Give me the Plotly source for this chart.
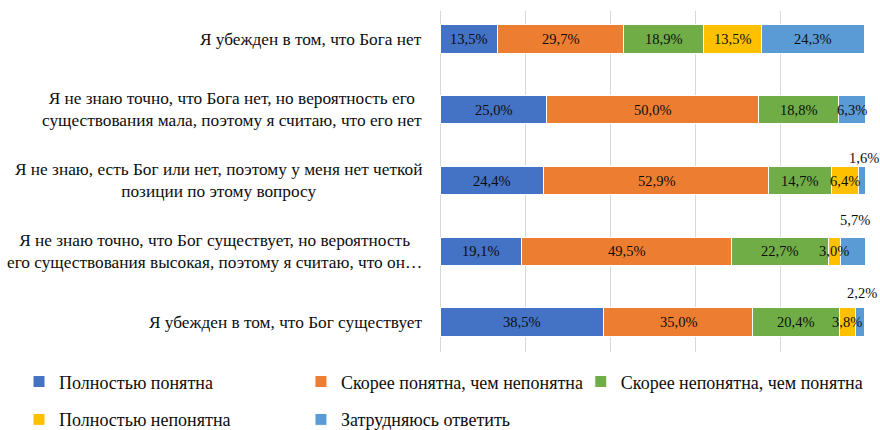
import plotly.graph_objects as go

categories = [
    "Я убежден в том, что Бога нет",
    "Я не знаю точно, что Бога нет, но вероятность его<br>существования мала, поэтому я считаю, что его нет",
    "Я не знаю, есть Бог или нет, поэтому у меня нет четкой<br>позиции по этому вопросу",
    "Я не знаю точно, что Бог существует, но вероятность<br>его существования высокая, поэтому я считаю, что он…",
    "Я убежден в том, что Бог существует",
]
series_names = [
    "Полностью понятна",
    "Скорее понятна, чем непонятна",
    "Скорее непонятна, чем понятна",
    "Полностью непонятна",
    "Затрудняюсь ответить",
]
full_clear = [13.5, 25.0, 24.4, 19.1, 38.5]
rather_clear = [29.7, 50.0, 52.9, 49.5, 35.0]
rather_unclear = [18.9, 18.8, 14.7, 22.7, 20.4]
full_unclear = [13.5, 0.0, 6.4, 3.0, 3.8]
hard_to_say = [24.3, 6.3, 1.6, 5.7, 2.2]
series_values = [full_clear, rather_clear, rather_unclear, full_unclear, hard_to_say]
colors = ["#4472C4", "#ED7D31", "#70AD47", "#FFC000", "#5B9BD5"]

# labels moved above the bar in the original: (row, series) -> vertical shift px
lifted_labels = {(2, 4): 23, (3, 4): 31, (4, 4): 29}

SERIF = "Liberation Serif, Times New Roman, serif"
LABEL_FONT = dict(family=SERIF, size=14.5, color="#0d0d0d")

rows = list(range(len(categories)))
fig = go.Figure()
legend_pos = [(0.0216, 0.112), (0.342, 0.112), (0.660, 0.112), (0.0216, 0.024), (0.342, 0.024)]

for s, (name, vals, col) in enumerate(zip(series_names, series_values, colors)):
    lg = "legend" if s == 0 else f"legend{s+1}"
    fig.add_trace(go.Bar(
        y=rows, x=vals, name=name, orientation="h",
        marker=dict(color=col, line=dict(color="white", width=1)),
        width=0.4, legend=lg, hoverinfo="x+name",
    ))


def fmt(v):
    return f"{v:.1f}".replace(".", ",") + "%"


annotations = []
for r in rows:
    start = 0.0
    for s in range(len(series_values)):
        v = series_values[s][r]
        if v > 0:
            shift = lifted_labels.get((r, s), 0)
            annotations.append(dict(
                x=start + v / 2, y=r, xref="x", yref="y", text=fmt(v),
                showarrow=False, yshift=shift, xshift=2 if shift else 0,
                font=LABEL_FONT,
            ))
        start += v

for r, cat in enumerate(categories):
    annotations.append(dict(
        x=-0.037, y=r, xref="paper", yref="y", text=cat, showarrow=False,
        xanchor="right", yanchor="middle", align="center",
        font=dict(family=SERIF, size=17.3, color="#0d0d0d"),
    ))

layout_legends = {}
for s in range(len(series_names)):
    key = "legend" if s == 0 else f"legend{s+1}"
    x, y = legend_pos[s]
    layout_legends[key] = dict(
        orientation="h", xref="container", yref="container", x=x, y=y,
        xanchor="left", yanchor="middle", bgcolor="rgba(0,0,0,0)",
        font=dict(family=SERIF, size=18, color="#0d0d0d"), itemwidth=30,
    )

fig.update_layout(
    width=880, height=430,
    margin=dict(l=440, r=15, t=11, b=78, autoexpand=False),
    barmode="stack",
    plot_bgcolor="white", paper_bgcolor="white",
    showlegend=True,
    xaxis=dict(range=[0, 100], dtick=20, showgrid=True, gridcolor="#D9D9D9",
               gridwidth=1, zeroline=True, zerolinecolor="#D9D9D9", zerolinewidth=1,
               showticklabels=False, showline=False),
    yaxis=dict(range=[4.424, -0.396], showticklabels=False, showgrid=False,
               zeroline=False, showline=False),
    annotations=annotations,
    **layout_legends,
)

fig.write_html(
    "out.html",
    config={"displayModeBar": False},
    post_script="document.body.style.margin='0';document.body.style.overflow='hidden';",
)
